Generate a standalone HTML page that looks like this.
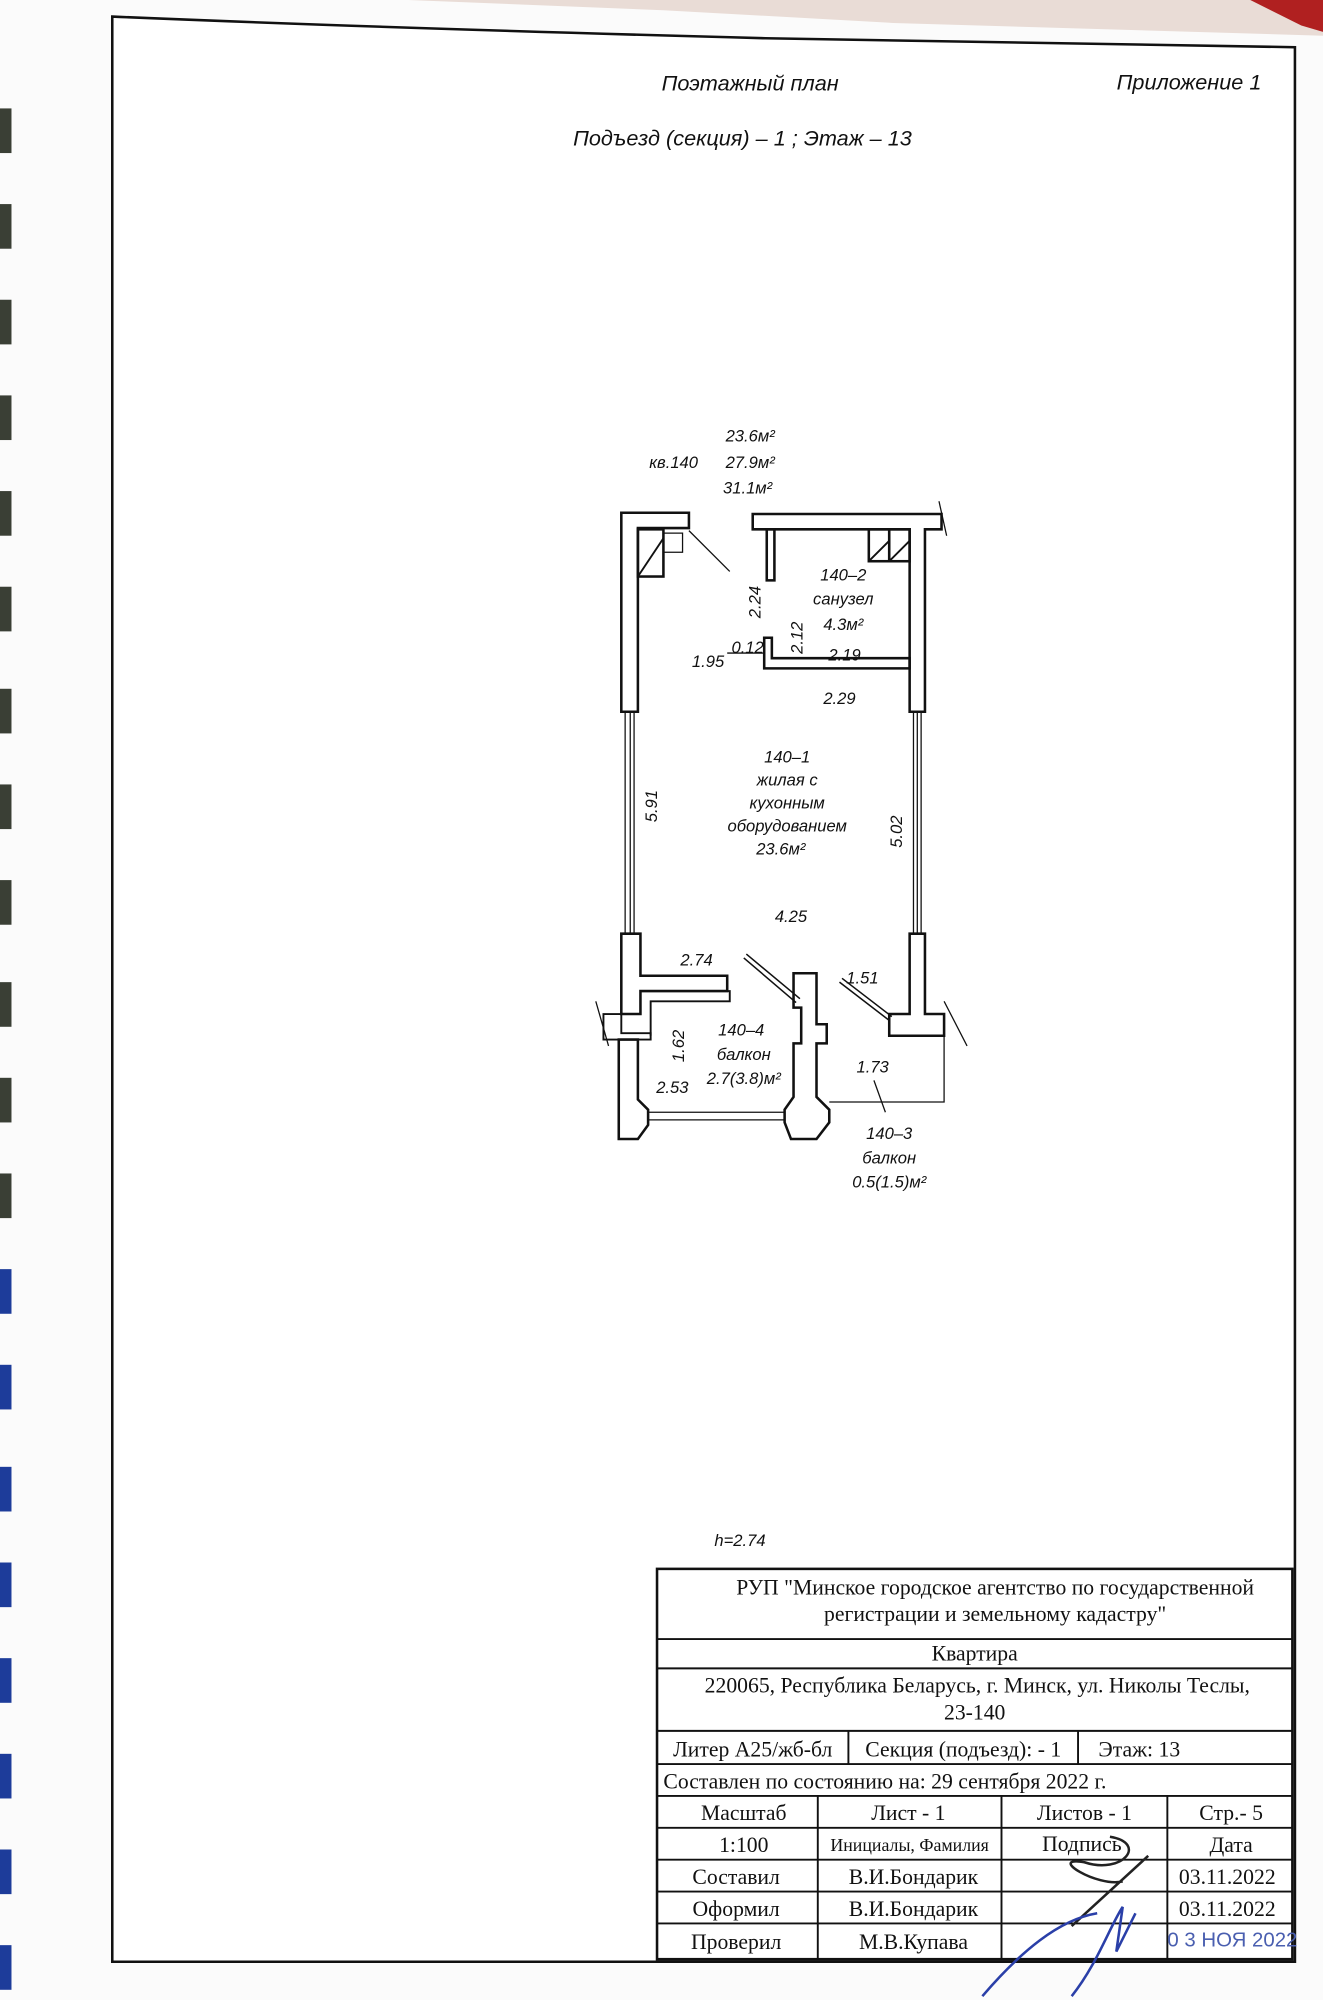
<!DOCTYPE html>
<html><head><meta charset="utf-8"><style>
html,body{margin:0;padding:0;background:#fff;}
svg{display:block;}
.it{font-family:"Liberation Sans","DejaVu Sans",sans-serif;font-style:italic;fill:#111;}
.tb{font-family:"Liberation Serif",serif;fill:#111;}
</style></head><body>
<svg width="1323" height="2000" viewBox="0 0 1037 1568" preserveAspectRatio="none" xmlns="http://www.w3.org/2000/svg">
<rect width="1037" height="1568" fill="#fbfbfb"/>
<path d="M320 0 L1037 0 L1037 28 L700 18 L520 8 Z" fill="#e9dcd6"/>
<path d="M980 0 L1037 0 L1037 25 L1020 20 Z" fill="#b02020"/>
<g fill="#3a3f35">
<rect x="0" y="85" width="9" height="35"/><rect x="0" y="160" width="9" height="35"/><rect x="0" y="235" width="9" height="35"/>
<rect x="0" y="310" width="9" height="35"/><rect x="0" y="385" width="9" height="35"/><rect x="0" y="460" width="9" height="35"/>
<rect x="0" y="540" width="9" height="35"/><rect x="0" y="615" width="9" height="35"/><rect x="0" y="690" width="9" height="35"/>
<rect x="0" y="770" width="9" height="35"/><rect x="0" y="845" width="9" height="35"/><rect x="0" y="920" width="9" height="35"/>
</g>
<g fill="#1d3c9a">
<rect x="0" y="995" width="9" height="35"/><rect x="0" y="1070" width="9" height="35"/><rect x="0" y="1150" width="9" height="35"/>
<rect x="0" y="1225" width="9" height="35"/><rect x="0" y="1300" width="9" height="35"/><rect x="0" y="1375" width="9" height="35"/>
<rect x="0" y="1450" width="9" height="35"/><rect x="0" y="1525" width="9" height="35"/>
</g>
<path d="M88 13 Q300 22 600 30 L1015 37 L1015 1538 L88 1538 Z" fill="#fff" stroke="#111" stroke-width="2"/>
<text class="it" x="588" y="71" font-size="17" text-anchor="middle">Поэтажный план</text>
<text class="it" x="932" y="70" font-size="17" text-anchor="middle">Приложение 1</text>
<text class="it" x="582" y="114" font-size="17" text-anchor="middle">Подъезд (секция) – 1 ;  Этаж – 13</text>
<g stroke="#111" stroke-width="2" fill="none">
<path d="M487 402 L540 402 L540 414 L500 414 L500 558 L487 558 Z"/>
<path d="M590 403 L738 403 L738 415 L725 415 L725 558 L713 558 L713 415 L590 415 Z"/>
<path d="M736 393 L742 420" stroke-width="1"/>
<path d="M490 558 V732 M494 558 V732 M497 558 V732 M716 558 V732 M719 558 V732 M722 558 V732" stroke-width="1"/>
<rect x="500" y="415" width="20" height="37"/><path d="M500 452 L520 422" stroke-width="1.5"/>
<path d="M520 418 H535 V433 H520" stroke-width="1"/>
<path d="M540 416 L572 448" stroke-width="1"/>
<rect x="681" y="415" width="16" height="25"/><rect x="697" y="415" width="16" height="25"/>
<path d="M681 440 L697 424 M697 440 L713 424" stroke-width="1.5"/>
<rect x="601" y="415" width="6" height="40"/>
<path d="M599 500 H605 V516 H713 V524 H599 Z"/>
<path d="M570 512 H599" stroke-width="1"/>
<path d="M487 732 H502 V765 H570 V777 H502 V795 H487 Z"/>
<path d="M502 777 H572 V785 H510 V812" stroke-width="1.5"/>
<path d="M473 795 H487 V810 H510 V815 H473 Z" stroke-width="1.5"/>
<path d="M485 815 H500 V862 L508 870 V882 L500 893 H485 Z"/>
<path d="M622 763 H640 V803 H648 V818 H640 V860 L650 870 V880 L640 893 H620 L615 880 V870 L622 860 V818 H628 V790 H622 Z"/>
<path d="M713 732 H725 V795 H740 V812 H697 V795 H713 Z"/>
<path d="M740 785 L758 820" stroke-width="1"/>
<path d="M467 785 L477 820" stroke-width="1"/>
<path d="M585 748 L627 783 M583 751 L624 786" stroke-width="1.2"/>
<path d="M660 767 L699 797 M658 770 L697 800" stroke-width="1.2"/>
<path d="M508 872 H615 M508 878 H615" stroke-width="1"/>
<path d="M650 864 H740 V812" stroke-width="1"/>
<path d="M685 847 L694 872" stroke-width="1"/>
</g>
<g class="it" font-size="13">
<text x="528" y="367" text-anchor="middle">кв.140</text>
<text x="588" y="346" text-anchor="middle">23.6м²</text>
<text x="588" y="367" text-anchor="middle">27.9м²</text>
<text x="586" y="387" text-anchor="middle">31.1м²</text>
<text x="661" y="455" text-anchor="middle">140–2</text>
<text x="661" y="474" text-anchor="middle">санузел</text>
<text x="661" y="494" text-anchor="middle">4.3м²</text>
<text x="596" y="472" text-anchor="middle" transform="rotate(-90 596 472)">2.24</text>
<text x="629" y="500" text-anchor="middle" transform="rotate(-90 629 500)">2.12</text>
<text x="586" y="512" text-anchor="middle">0.12</text>
<text x="555" y="523" text-anchor="middle">1.95</text>
<text x="662" y="518" text-anchor="middle">2.19</text>
<text x="658" y="552" text-anchor="middle">2.29</text>
<text x="617" y="598" text-anchor="middle">140–1</text>
<text x="617" y="616" text-anchor="middle">жилая с</text>
<text x="617" y="634" text-anchor="middle">кухонным</text>
<text x="617" y="652" text-anchor="middle">оборудованием</text>
<text x="612" y="670" text-anchor="middle">23.6м²</text>
<text x="515" y="632" text-anchor="middle" transform="rotate(-90 515 632)">5.91</text>
<text x="707" y="652" text-anchor="middle" transform="rotate(-90 707 652)">5.02</text>
<text x="620" y="723" text-anchor="middle">4.25</text>
<text x="546" y="757" text-anchor="middle">2.74</text>
<text x="676" y="771" text-anchor="middle">1.51</text>
<text x="581" y="812" text-anchor="middle">140–4</text>
<text x="583" y="831" text-anchor="middle">балкон</text>
<text x="583" y="850" text-anchor="middle">2.7(3.8)м²</text>
<text x="536" y="820" text-anchor="middle" transform="rotate(-90 536 820)">1.62</text>
<text x="527" y="857" text-anchor="middle">2.53</text>
<text x="684" y="841" text-anchor="middle">1.73</text>
<text x="697" y="893" text-anchor="middle">140–3</text>
<text x="697" y="912" text-anchor="middle">балкон</text>
<text x="697" y="931" text-anchor="middle">0.5(1.5)м²</text>
<text x="580" y="1212" text-anchor="middle">h=2.74</text>
</g>
<g stroke="#111" fill="none">
<rect x="515" y="1230" width="498" height="306" stroke-width="2"/>
<g stroke-width="1.5">
<path d="M515 1285 H1013 M515 1308 H1013 M515 1357 H1013 M515 1383 H1013 M515 1408 H1013 M515 1433 H1013 M515 1458 H1013 M515 1483 H1013 M515 1508 H1013"/>
<path d="M665 1357 V1383 M845 1357 V1383"/>
<path d="M641 1408 V1536 M785 1408 V1536 M915 1408 V1536"/>
</g>
</g>
<g class="tb" font-size="17" text-anchor="middle">
<text x="780" y="1250">РУП "Минское городское агентство по государственной</text>
<text x="780" y="1271">регистрации и земельному кадастру"</text>
<text x="764" y="1302">Квартира</text>
<text x="766" y="1327">220065, Республика Беларусь, г. Минск, ул. Николы Теслы,</text>
<text x="764" y="1348">23-140</text>
<text x="590" y="1377">Литер А25/жб-бл</text>
<text x="755" y="1377">Секция (подъезд): - 1</text>
<text x="893" y="1377">Этаж: 13</text>
<text x="520" y="1402" text-anchor="start">Составлен по состоянию на: 29 сентября 2022 г.</text>
<text x="583" y="1427">Масштаб</text>
<text x="712" y="1427">Лист -    1</text>
<text x="850" y="1427">Листов - 1</text>
<text x="965" y="1427">Стр.-  5</text>
<text x="583" y="1452">1:100</text>
<text x="713" y="1451" font-size="14">Инициалы, Фамилия</text>
<text x="848" y="1451">Подпись</text>
<text x="965" y="1452">Дата</text>
<text x="577" y="1477">Составил</text>
<text x="716" y="1477">В.И.Бондарик</text>
<text x="962" y="1477">03.11.2022</text>
<text x="577" y="1502">Оформил</text>
<text x="716" y="1502">В.И.Бондарик</text>
<text x="962" y="1502">03.11.2022</text>
<text x="577" y="1528">Проверил</text>
<text x="716" y="1528">М.В.Купава</text>
</g>
<text x="966" y="1526" font-family="Liberation Sans,sans-serif" font-size="16" fill="#4a5fb0" text-anchor="middle">0 3 НОЯ 2022</text>
<path d="M900 1455 L840 1510 M870 1440 C900 1445 880 1470 850 1460 C820 1455 860 1480 880 1475" stroke="#222" stroke-width="2" fill="none"/>
<path d="M770 1565 C800 1530 830 1505 860 1500 M840 1565 C860 1540 870 1510 880 1495 L875 1530 L890 1500" stroke="#2a3fa8" stroke-width="2" fill="none"/>
</svg>
</body></html>
